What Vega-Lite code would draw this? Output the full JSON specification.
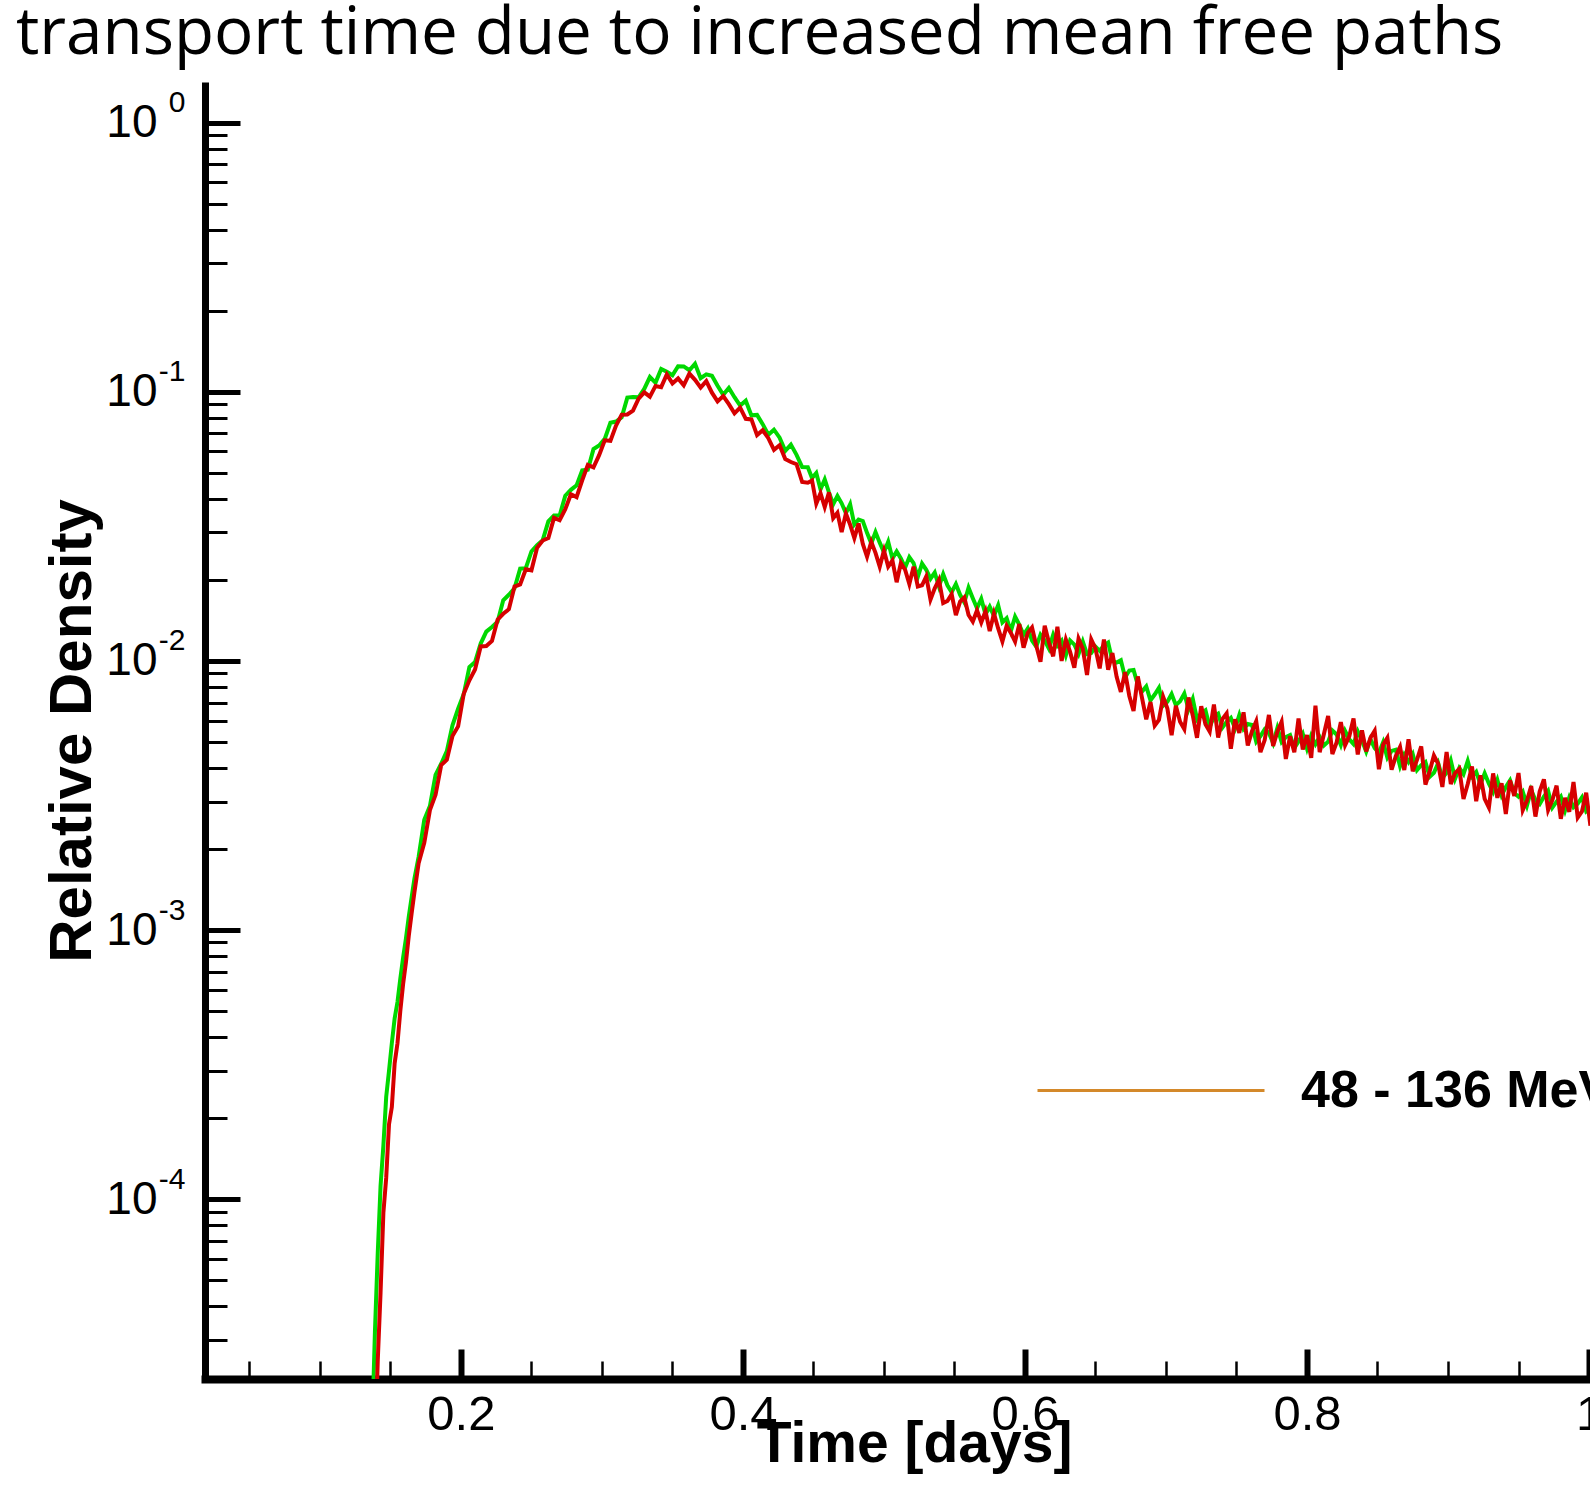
{
  "$schema": "https://vega.github.io/schema/vega-lite/v6.json",
  "width": 1385,
  "height": 1297,
  "autosize": {"type": "none"},
  "padding": {"left": 205, "top": 82, "right": 0, "bottom": 122},
  "background": "white",
  "title": {
    "text": "transport time due to increased mean free paths",
    "anchor": "start",
    "frame": "group",
    "font": "Open Sans",
    "fontSize": 65.5,
    "fontWeight": "normal",
    "color": "black",
    "dx": -189,
    "dy": 53,
    "offset": 16,
    "baseline": "alphabetic"
  },
  "data": {
    "values": [
      {"t":0.137,"g":0.000014,"r":0.000005},
      {"t":0.139,"g":0.000032,"r":0.000011},
      {"t":0.141,"g":0.000063,"r":0.000025},
      {"t":0.143,"g":0.000112,"r":0.000045},
      {"t":0.145,"g":0.000158,"r":0.000089},
      {"t":0.147,"g":0.00024,"r":0.00012},
      {"t":0.149,"g":0.0003,"r":0.00019},
      {"t":0.151,"g":0.00038,"r":0.00022},
      {"t":0.153,"g":0.00047,"r":0.00032},
      {"t":0.155,"g":0.00054,"r":0.00038},
      {"t":0.157,"g":0.00066,"r":0.0005},
      {"t":0.159,"g":0.00079,"r":0.00063},
      {"t":0.161,"g":0.00093,"r":0.00076},
      {"t":0.163,"g":0.00112,"r":0.00095},
      {"t":0.165,"g":0.00132,"r":0.00115},
      {"t":0.167,"g":0.00155,"r":0.00138},
      {"t":0.170,"g":0.00187,"r":0.00177},
      {"t":0.174,"g":0.00257,"r":0.00211},
      {"t":0.178,"g":0.00289,"r":0.00279},
      {"t":0.182,"g":0.00377,"r":0.00318},
      {"t":0.186,"g":0.00415,"r":0.0041},
      {"t":0.190,"g":0.00462,"r":0.00429},
      {"t":0.194,"g":0.00576,"r":0.00526},
      {"t":0.198,"g":0.00664,"r":0.00571},
      {"t":0.202,"g":0.00753,"r":0.00755},
      {"t":0.206,"g":0.00948,"r":0.00847},
      {"t":0.210,"g":0.0099,"r":0.00929},
      {"t":0.214,"g":0.0116,"r":0.01132},
      {"t":0.218,"g":0.01285,"r":0.01135},
      {"t":0.222,"g":0.01337,"r":0.01186},
      {"t":0.226,"g":0.01398,"r":0.01422},
      {"t":0.230,"g":0.01679,"r":0.01496},
      {"t":0.234,"g":0.01761,"r":0.01556},
      {"t":0.238,"g":0.0186,"r":0.01888},
      {"t":0.242,"g":0.022,"r":0.01923},
      {"t":0.246,"g":0.0221,"r":0.0219},
      {"t":0.250,"g":0.0255,"r":0.0217},
      {"t":0.254,"g":0.0269,"r":0.0263},
      {"t":0.258,"g":0.0281,"r":0.028},
      {"t":0.262,"g":0.033,"r":0.0286},
      {"t":0.266,"g":0.0347,"r":0.034},
      {"t":0.270,"g":0.0347,"r":0.0333},
      {"t":0.274,"g":0.0411,"r":0.0366},
      {"t":0.278,"g":0.0432,"r":0.0416},
      {"t":0.282,"g":0.0449,"r":0.0406},
      {"t":0.286,"g":0.051,"r":0.0469},
      {"t":0.290,"g":0.0513,"r":0.0535},
      {"t":0.294,"g":0.0612,"r":0.0524},
      {"t":0.298,"g":0.0631,"r":0.0581},
      {"t":0.302,"g":0.0668,"r":0.066},
      {"t":0.306,"g":0.0767,"r":0.0657},
      {"t":0.310,"g":0.0775,"r":0.0749},
      {"t":0.314,"g":0.0804,"r":0.0822},
      {"t":0.318,"g":0.0951,"r":0.0823},
      {"t":0.322,"g":0.0955,"r":0.0851},
      {"t":0.326,"g":0.0953,"r":0.0942},
      {"t":0.330,"g":0.1024,"r":0.0995},
      {"t":0.334,"g":0.1134,"r":0.0959},
      {"t":0.338,"g":0.1081,"r":0.1051},
      {"t":0.342,"g":0.1215,"r":0.104},
      {"t":0.346,"g":0.1186,"r":0.1159},
      {"t":0.350,"g":0.1151,"r":0.1074},
      {"t":0.354,"g":0.1243,"r":0.1121},
      {"t":0.358,"g":0.1242,"r":0.1057},
      {"t":0.362,"g":0.1202,"r":0.1168},
      {"t":0.366,"g":0.1271,"r":0.1107},
      {"t":0.370,"g":0.1123,"r":0.1036},
      {"t":0.374,"g":0.116,"r":0.1095},
      {"t":0.378,"g":0.1146,"r":0.0992},
      {"t":0.382,"g":0.1052,"r":0.0921},
      {"t":0.386,"g":0.0974,"r":0.0963},
      {"t":0.390,"g":0.1033,"r":0.0899},
      {"t":0.394,"g":0.0954,"r":0.0831},
      {"t":0.398,"g":0.0888,"r":0.0873},
      {"t":0.402,"g":0.0926,"r":0.0793},
      {"t":0.406,"g":0.0817,"r":0.0789},
      {"t":0.410,"g":0.082,"r":0.069},
      {"t":0.414,"g":0.0758,"r":0.0719},
      {"t":0.418,"g":0.0692,"r":0.0672},
      {"t":0.422,"g":0.0723,"r":0.0608},
      {"t":0.426,"g":0.0675,"r":0.0633},
      {"t":0.430,"g":0.0603,"r":0.0562},
      {"t":0.434,"g":0.0636,"r":0.0548},
      {"t":0.438,"g":0.0583,"r":0.0538},
      {"t":0.442,"g":0.0525,"r":0.0462},
      {"t":0.446,"g":0.0524,"r":0.0459},
      {"t":0.449,"g":0.0478,"r":0.0468},
      {"t":0.452,"g":0.0499,"r":0.0384},
      {"t":0.455,"g":0.0434,"r":0.042},
      {"t":0.458,"g":0.0472,"r":0.0373},
      {"t":0.461,"g":0.0423,"r":0.0423},
      {"t":0.464,"g":0.0382,"r":0.0339},
      {"t":0.467,"g":0.041,"r":0.0355},
      {"t":0.470,"g":0.0385,"r":0.0301},
      {"t":0.473,"g":0.0354,"r":0.0353},
      {"t":0.476,"g":0.0382,"r":0.0321},
      {"t":0.479,"g":0.0321,"r":0.0286},
      {"t":0.482,"g":0.0335,"r":0.0324},
      {"t":0.485,"g":0.0331,"r":0.0272},
      {"t":0.488,"g":0.0299,"r":0.0244},
      {"t":0.491,"g":0.0273,"r":0.0277},
      {"t":0.494,"g":0.0301,"r":0.0252},
      {"t":0.497,"g":0.0275,"r":0.0224},
      {"t":0.500,"g":0.0253,"r":0.0257},
      {"t":0.503,"g":0.0277,"r":0.0224},
      {"t":0.506,"g":0.024,"r":0.0236},
      {"t":0.509,"g":0.0255,"r":0.0196},
      {"t":0.512,"g":0.024,"r":0.0231},
      {"t":0.515,"g":0.0222,"r":0.0218},
      {"t":0.518,"g":0.0243,"r":0.0193},
      {"t":0.521,"g":0.0231,"r":0.0224},
      {"t":0.524,"g":0.0205,"r":0.0189},
      {"t":0.527,"g":0.023,"r":0.0191},
      {"t":0.530,"g":0.0218,"r":0.0206},
      {"t":0.533,"g":0.0202,"r":0.0169},
      {"t":0.536,"g":0.0213,"r":0.0186},
      {"t":0.539,"g":0.0189,"r":0.02},
      {"t":0.542,"g":0.021,"r":0.0164},
      {"t":0.545,"g":0.0191,"r":0.0167},
      {"t":0.548,"g":0.018,"r":0.0177},
      {"t":0.551,"g":0.0193,"r":0.0148},
      {"t":0.554,"g":0.0176,"r":0.0166},
      {"t":0.557,"g":0.0165,"r":0.0172},
      {"t":0.560,"g":0.0187,"r":0.0148},
      {"t":0.563,"g":0.0171,"r":0.014},
      {"t":0.566,"g":0.0157,"r":0.0154},
      {"t":0.569,"g":0.017,"r":0.0139},
      {"t":0.572,"g":0.0149,"r":0.0153},
      {"t":0.575,"g":0.0159,"r":0.0129},
      {"t":0.578,"g":0.0147,"r":0.015},
      {"t":0.581,"g":0.0161,"r":0.0132},
      {"t":0.584,"g":0.0139,"r":0.0118},
      {"t":0.587,"g":0.0144,"r":0.0135},
      {"t":0.590,"g":0.0129,"r":0.0127},
      {"t":0.593,"g":0.0146,"r":0.0118},
      {"t":0.596,"g":0.0136,"r":0.0137},
      {"t":0.599,"g":0.0125,"r":0.0112},
      {"t":0.602,"g":0.0132,"r":0.0127},
      {"t":0.605,"g":0.0119,"r":0.0133},
      {"t":0.608,"g":0.0113,"r":0.0114},
      {"t":0.611,"g":0.0125,"r":0.00993},
      {"t":0.614,"g":0.0119,"r":0.0135},
      {"t":0.617,"g":0.0111,"r":0.0117},
      {"t":0.620,"g":0.0125,"r":0.0104},
      {"t":0.623,"g":0.0114,"r":0.0134},
      {"t":0.626,"g":0.0119,"r":0.01},
      {"t":0.629,"g":0.0105,"r":0.012},
      {"t":0.632,"g":0.0119,"r":0.0108},
      {"t":0.635,"g":0.0115,"r":0.00944},
      {"t":0.638,"g":0.0106,"r":0.0121},
      {"t":0.641,"g":0.0118,"r":0.0111},
      {"t":0.644,"g":0.0106,"r":0.00887},
      {"t":0.647,"g":0.0107,"r":0.012},
      {"t":0.650,"g":0.0113,"r":0.0111},
      {"t":0.653,"g":0.0109,"r":0.00938},
      {"t":0.656,"g":0.0114,"r":0.012},
      {"t":0.659,"g":0.0117,"r":0.00927},
      {"t":0.662,"g":0.00999,"r":0.0107},
      {"t":0.665,"g":0.00986,"r":0.00873},
      {"t":0.668,"g":0.01006,"r":0.00767},
      {"t":0.671,"g":0.00868,"r":0.00908},
      {"t":0.674,"g":0.00921,"r":0.00741},
      {"t":0.677,"g":0.00925,"r":0.00652},
      {"t":0.680,"g":0.00816,"r":0.00875},
      {"t":0.683,"g":0.00769,"r":0.00729},
      {"t":0.686,"g":0.00804,"r":0.00607},
      {"t":0.689,"g":0.00714,"r":0.00703},
      {"t":0.692,"g":0.0075,"r":0.00575},
      {"t":0.695,"g":0.00794,"r":0.00604},
      {"t":0.698,"g":0.00682,"r":0.00735},
      {"t":0.701,"g":0.00705,"r":0.00665},
      {"t":0.704,"g":0.00753,"r":0.0053},
      {"t":0.707,"g":0.00685,"r":0.00681},
      {"t":0.710,"g":0.00708,"r":0.00594},
      {"t":0.713,"g":0.00756,"r":0.00558},
      {"t":0.716,"g":0.0066,"r":0.00731},
      {"t":0.719,"g":0.00722,"r":0.00627},
      {"t":0.722,"g":0.00608,"r":0.00518},
      {"t":0.725,"g":0.00639,"r":0.00678},
      {"t":0.728,"g":0.00655,"r":0.00581},
      {"t":0.731,"g":0.00568,"r":0.00546},
      {"t":0.734,"g":0.00621,"r":0.00689},
      {"t":0.737,"g":0.00637,"r":0.00519},
      {"t":0.740,"g":0.00565,"r":0.00608},
      {"t":0.743,"g":0.00594,"r":0.00638},
      {"t":0.746,"g":0.00614,"r":0.00472},
      {"t":0.749,"g":0.00562,"r":0.00607},
      {"t":0.752,"g":0.0063,"r":0.0054},
      {"t":0.755,"g":0.00559,"r":0.00644},
      {"t":0.758,"g":0.00583,"r":0.00485},
      {"t":0.761,"g":0.00578,"r":0.00548},
      {"t":0.764,"g":0.00501,"r":0.00597},
      {"t":0.767,"g":0.00526,"r":0.00458},
      {"t":0.770,"g":0.00557,"r":0.00508},
      {"t":0.773,"g":0.0054,"r":0.0063},
      {"t":0.776,"g":0.00495,"r":0.00483},
      {"t":0.779,"g":0.00564,"r":0.00546},
      {"t":0.782,"g":0.005,"r":0.00594},
      {"t":0.785,"g":0.00521,"r":0.00432},
      {"t":0.788,"g":0.0053,"r":0.00525},
      {"t":0.791,"g":0.00474,"r":0.00458},
      {"t":0.794,"g":0.00502,"r":0.00611},
      {"t":0.797,"g":0.00536,"r":0.00469},
      {"t":0.800,"g":0.00472,"r":0.0053},
      {"t":0.803,"g":0.00528,"r":0.00436},
      {"t":0.806,"g":0.0049,"r":0.00682},
      {"t":0.809,"g":0.00522,"r":0.00458},
      {"t":0.812,"g":0.00485,"r":0.00535},
      {"t":0.815,"g":0.00501,"r":0.00624},
      {"t":0.818,"g":0.00551,"r":0.00451},
      {"t":0.821,"g":0.00533,"r":0.00498},
      {"t":0.824,"g":0.00487,"r":0.00592},
      {"t":0.827,"g":0.00549,"r":0.00486},
      {"t":0.830,"g":0.00511,"r":0.00525},
      {"t":0.833,"g":0.00491,"r":0.00611},
      {"t":0.836,"g":0.00547,"r":0.00449},
      {"t":0.839,"g":0.00506,"r":0.00552},
      {"t":0.842,"g":0.0046,"r":0.00461},
      {"t":0.845,"g":0.00512,"r":0.00518},
      {"t":0.848,"g":0.00474,"r":0.0055},
      {"t":0.851,"g":0.00456,"r":0.00396},
      {"t":0.854,"g":0.00499,"r":0.00488},
      {"t":0.857,"g":0.00437,"r":0.00518},
      {"t":0.860,"g":0.00463,"r":0.00394},
      {"t":0.863,"g":0.00468,"r":0.00443},
      {"t":0.866,"g":0.00406,"r":0.00479},
      {"t":0.869,"g":0.00448,"r":0.00393},
      {"t":0.872,"g":0.00421,"r":0.00511},
      {"t":0.875,"g":0.0045,"r":0.00389},
      {"t":0.878,"g":0.00393,"r":0.00429},
      {"t":0.881,"g":0.0041,"r":0.00481},
      {"t":0.884,"g":0.00421,"r":0.00347},
      {"t":0.887,"g":0.00371,"r":0.00389},
      {"t":0.890,"g":0.00384,"r":0.00445},
      {"t":0.893,"g":0.00417,"r":0.00415},
      {"t":0.896,"g":0.00368,"r":0.0034},
      {"t":0.899,"g":0.00384,"r":0.00459},
      {"t":0.902,"g":0.00426,"r":0.00349},
      {"t":0.905,"g":0.00365,"r":0.00383},
      {"t":0.908,"g":0.004,"r":0.00397},
      {"t":0.911,"g":0.0038,"r":0.00307},
      {"t":0.914,"g":0.00425,"r":0.00349},
      {"t":0.917,"g":0.00372,"r":0.00405},
      {"t":0.920,"g":0.00387,"r":0.00301},
      {"t":0.923,"g":0.00348,"r":0.00376},
      {"t":0.926,"g":0.00382,"r":0.00307},
      {"t":0.929,"g":0.0035,"r":0.00285},
      {"t":0.932,"g":0.00326,"r":0.00382},
      {"t":0.935,"g":0.00361,"r":0.0031},
      {"t":0.938,"g":0.00317,"r":0.00351},
      {"t":0.941,"g":0.0034,"r":0.0027},
      {"t":0.944,"g":0.0036,"r":0.0036},
      {"t":0.947,"g":0.00323,"r":0.00315},
      {"t":0.950,"g":0.00313,"r":0.00383},
      {"t":0.953,"g":0.00327,"r":0.00279},
      {"t":0.956,"g":0.0029,"r":0.00303},
      {"t":0.959,"g":0.00331,"r":0.00343},
      {"t":0.962,"g":0.00304,"r":0.00264},
      {"t":0.965,"g":0.00294,"r":0.00327},
      {"t":0.968,"g":0.00313,"r":0.00363},
      {"t":0.971,"g":0.00329,"r":0.00279},
      {"t":0.974,"g":0.00285,"r":0.00304},
      {"t":0.977,"g":0.003,"r":0.00344},
      {"t":0.980,"g":0.00313,"r":0.00259},
      {"t":0.983,"g":0.00278,"r":0.0031},
      {"t":0.986,"g":0.00311,"r":0.00275},
      {"t":0.989,"g":0.00286,"r":0.00355},
      {"t":0.992,"g":0.00295,"r":0.00262},
      {"t":0.995,"g":0.00311,"r":0.00276},
      {"t":0.998,"g":0.00276,"r":0.00324},
      {"t":1.001,"g":0.00284,"r":0.00244}
    ]
  },
  "layer": [
    {
      "mark": {"type": "line", "color": "#00d800", "strokeWidth": 4, "clip": true},
      "encoding": {
        "x": {
          "field": "t", "type": "quantitative",
          "scale": {"domain": [0.0185, 1.0007], "nice": false, "zero": false},
          "axis": {
            "orient": "bottom",
            "values": [0.2, 0.4, 0.6, 0.8, 1.0],
            "format": "~g",
            "grid": false,
            "tickSize": -30, "tickWidth": 6, "tickColor": "black",
            "domainWidth": 8, "domainColor": "black", "domainCap": "square",
            "labelFont": "Liberation Sans", "labelFontSize": 49, "labelColor": "black",
            "labelPadding": 41, "labelFlush": false, "labelOverlap": false,
            "title": "Time [days]",
            "titleFont": "Liberation Sans", "titleFontSize": 57, "titleFontWeight": "bold", "titleColor": "black",
            "titleX": 709, "titleY": 82, "titleBaseline": "alphabetic", "titleAlign": "center"
          }
        },
        "y": {
          "field": "g", "type": "quantitative",
          "scale": {"type": "log", "domain": [0.00002148, 1.415], "nice": false},
          "axis": {
            "orient": "left",
            "values": [0.0001, 0.001, 0.01, 0.1, 1],
            "labelExpr": "'10'",
            "grid": false,
            "tickSize": -35, "tickWidth": 5, "tickColor": "black",
            "domainWidth": 7, "domainColor": "black",
            "labelFont": "Liberation Sans", "labelFontSize": 46, "labelColor": "black",
            "labelPadding": 83, "labelFlush": false, "labelOverlap": false,
            "title": "Relative Density",
            "titleFont": "Liberation Sans", "titleFontSize": 60, "titleFontWeight": "bold", "titleColor": "black",
            "titleX": -115, "titleY": 648.5, "titleAngle": -90, "titleBaseline": "alphabetic", "titleAlign": "center"
          }
        }
      }
    },
    {
      "mark": {"type": "line", "color": "#d60000", "strokeWidth": 4, "clip": true},
      "encoding": {
        "x": {"field": "t", "type": "quantitative", "scale": {"domain": [0.0185, 1.0007], "nice": false, "zero": false}, "axis": null},
        "y": {"field": "r", "type": "quantitative", "scale": {"type": "log", "domain": [0.00002148, 1.415], "nice": false}, "axis": null}
      }
    },
    {
      "data": {"values": [{"t": 0.5, "v": 0.0000001, "name": "48 - 136 MeV"}]},
      "mark": {"type": "line", "strokeWidth": 3, "clip": true},
      "encoding": {
        "x": {
          "field": "t", "type": "quantitative",
          "scale": {"domain": [0.0185, 1.0007], "nice": false, "zero": false},
          "axis": {
            "orient": "bottom",
            "values": [0.05, 0.1, 0.15, 0.25, 0.3, 0.35, 0.45, 0.5, 0.55, 0.65, 0.7, 0.75, 0.85, 0.9, 0.95],
            "labels": false, "domain": false, "grid": false, "title": null,
            "tickSize": -18, "tickWidth": 2.5, "tickColor": "black"
          }
        },
        "y": {
          "field": "v", "type": "quantitative",
          "scale": {"type": "log", "domain": [0.00002148, 1.415], "nice": false},
          "axis": {
            "orient": "left",
            "values": [0.00003, 0.00004, 0.00005, 0.00006, 0.00007, 0.00008, 0.00009, 0.0001,
                       0.0002, 0.0003, 0.0004, 0.0005, 0.0006, 0.0007, 0.0008, 0.0009, 0.001,
                       0.002, 0.003, 0.004, 0.005, 0.006, 0.007, 0.008, 0.009, 0.01,
                       0.02, 0.03, 0.04, 0.05, 0.06, 0.07, 0.08, 0.09, 0.1,
                       0.2, 0.3, 0.4, 0.5, 0.6, 0.7, 0.8, 0.9, 1],
            "labelExpr": "abs(log(datum.value)/LN10 - round(log(datum.value)/LN10)) < 0.001 ? '' + round(log(datum.value)/LN10) : ''",
            "labelFont": "Liberation Sans", "labelFontSize": 30, "labelColor": "black",
            "labelPadding": 42, "labelOffset": -20, "labelFlush": false, "labelOverlap": false,
            "domain": false, "grid": false, "title": null,
            "tickSize": -22, "tickWidth": 3, "tickColor": "black"
          }
        },
        "color": {
          "field": "name", "type": "nominal",
          "scale": {"range": ["#d4892a"]},
          "legend": {
            "orient": "none",
            "legendX": 831,
            "legendY": 893.5,
            "title": null,
            "padding": 0,
            "symbolType": "stroke",
            "symbolSize": 51529,
            "symbolStrokeWidth": 3,
            "labelFont": "Liberation Sans",
            "labelFontSize": 52,
            "labelFontWeight": "bold",
            "labelColor": "black",
            "labelOffset": 35,
            "labelLimit": 2000
          }
        }
      }
    }
  ],
  "resolve": {"axis": {"x": "independent", "y": "independent"}},
  "config": {
    "view": {"stroke": null},
    "axis": {"grid": false}
  }
}
